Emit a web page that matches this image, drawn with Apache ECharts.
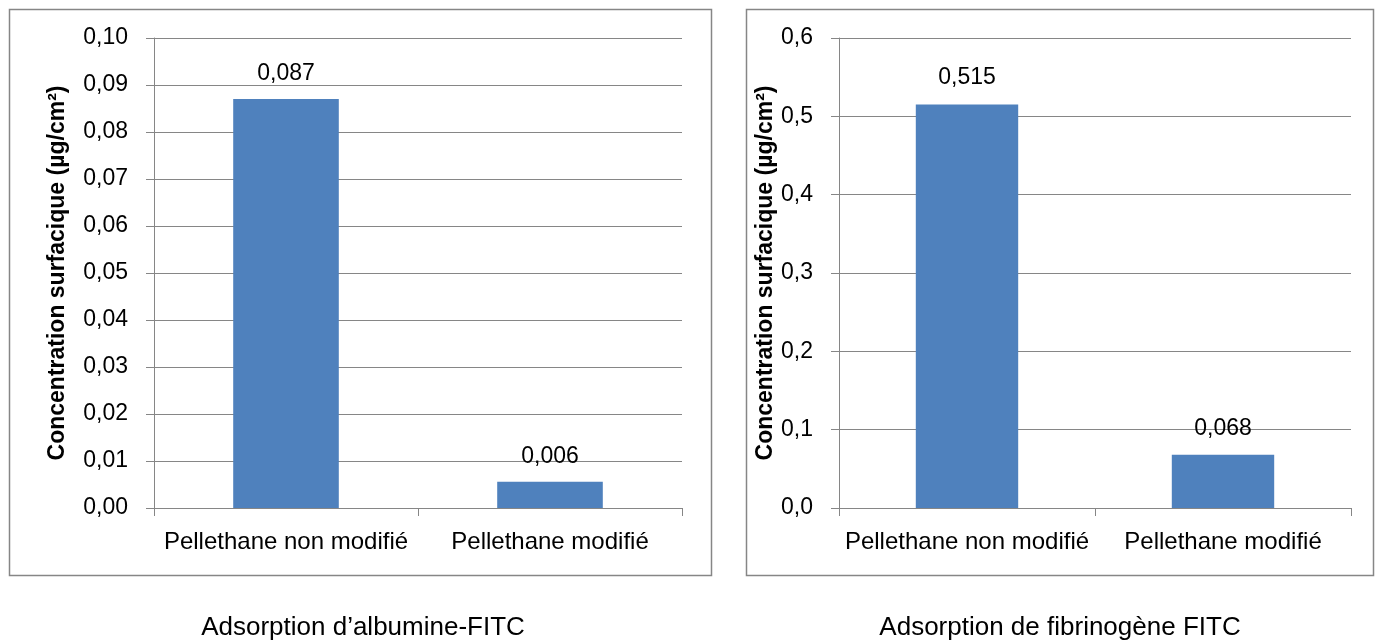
<!DOCTYPE html>
<html>
<head>
<meta charset="utf-8">
<script src="https://cdn.jsdelivr.net/npm/echarts@6/dist/echarts.min.js"></script>
<style>
html,body{margin:0;padding:0;background:#fff;}
#c{width:1375px;height:640px;}
</style>
</head>
<body>
<div id="c"></div>
<script>
const categories = ['Pellethane non modifié', 'Pellethane modifié'];
const albuminValues = [0.087, 0.0056];
const fibrinogenValues = [0.515, 0.068];
const yTitle = 'Concentration surfacique (µg/cm²)';
const captionLeft = 'Adsorption d’albumine-FITC';
const captionRight = 'Adsorption de fibrinogène FITC';

const FONT = '"Liberation Sans", Arial, sans-serif';
const GRAY = '#868686';
const BAR = '#4F81BD';

function yAxis(gridIndex, max, interval, decimals, nameGap) {
  return {
    type: 'value', gridIndex, min: 0, max, interval,
    name: yTitle, nameLocation: 'middle', nameGap,
    nameTextStyle: {fontFamily: FONT, fontSize: 23, fontWeight: 'bold', color: '#000'},
    axisLine: {show: true, lineStyle: {color: GRAY, width: 1}},
    axisTick: {show: true, length: 8, lineStyle: {color: GRAY}},
    axisLabel: {
      margin: 26, fontFamily: FONT, fontSize: 23, color: '#000',
      formatter: v => v.toFixed(decimals).replace('.', ',')
    },
    splitLine: {show: true, lineStyle: {color: GRAY, width: 1}}
  };
}
function xAxis(gridIndex) {
  return {
    type: 'category', gridIndex, data: categories,
    axisLine: {show: true, lineStyle: {color: GRAY, width: 1}},
    axisTick: {show: true, length: 8, alignWithLabel: false, lineStyle: {color: GRAY}},
    axisLabel: {margin: 22, fontFamily: FONT, fontSize: 24, color: '#000', interval: 0}
  };
}
function barSeries(idx, data, distance) {
  return {
    type: 'bar', xAxisIndex: idx, yAxisIndex: idx, data,
    barWidth: '40%',
    itemStyle: {color: BAR},
    label: {
      show: true, position: 'top', distance,
      fontFamily: FONT, fontSize: 23, color: '#000',
      formatter: p => p.value.toFixed(3).replace('.', ',')
    }
  };
}

const chart = echarts.init(document.getElementById('c'), null, {renderer: 'canvas'});
chart.setOption({
  animation: false,
  backgroundColor: '#fff',
  grid: [
    {left: 154, right: 1375 - 682, top: 38, bottom: 132},
    {left: 839, right: 1375 - 1351, top: 38, bottom: 132}
  ],
  xAxis: [xAxis(0), xAxis(1)],
  yAxis: [yAxis(0, 0.10, 0.01, 2, 85), yAxis(1, 0.6, 0.1, 1, 62)],
  series: [barSeries(0, albuminValues, 14), barSeries(1, fibrinogenValues, 15)],
  graphic: [
    {type: 'rect', shape: {x: 9.5, y: 9.5, width: 702, height: 566}, style: {fill: 'none', stroke: GRAY, lineWidth: 1.5}, z: -1},
    {type: 'rect', shape: {x: 746.5, y: 9.5, width: 627, height: 566}, style: {fill: 'none', stroke: GRAY, lineWidth: 1.5}, z: -1},
    {type: 'text', x: 363, y: 628, style: {text: captionLeft, font: '26px ' + FONT, fill: '#000', textAlign: 'center', textVerticalAlign: 'middle'}},
    {type: 'text', x: 1060, y: 628, style: {text: captionRight, font: '26px ' + FONT, fill: '#000', textAlign: 'center', textVerticalAlign: 'middle'}}
  ]
});
</script>
</body>
</html>
